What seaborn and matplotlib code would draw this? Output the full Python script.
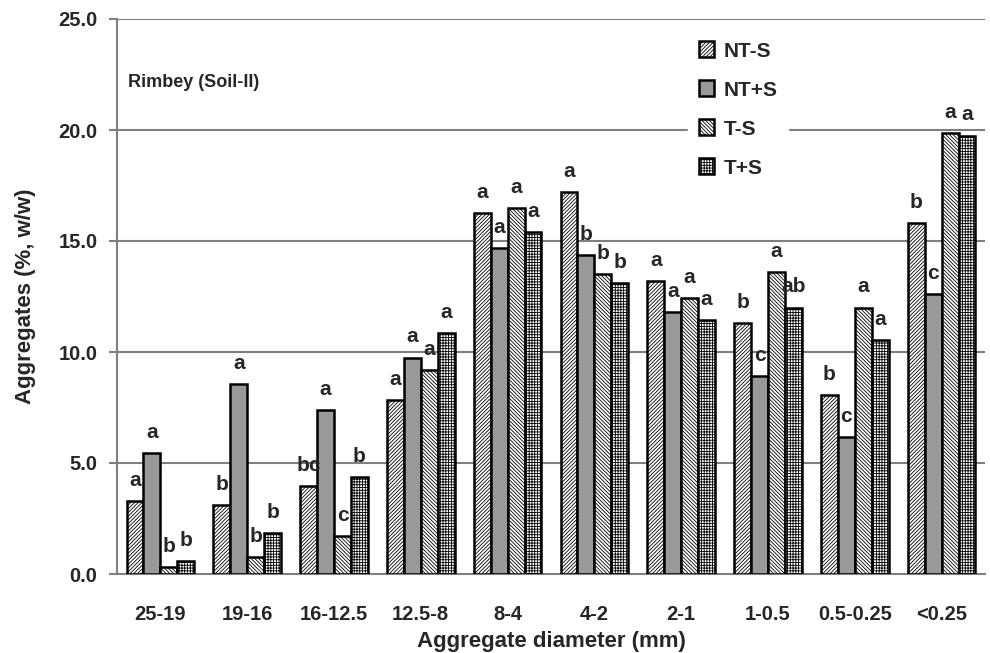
import numpy as np
import pandas as pd
import matplotlib
matplotlib.use("Agg")
import matplotlib.pyplot as plt
import seaborn as sns
from matplotlib.patches import Patch

categories = ["25-19", "19-16", "16-12.5", "12.5-8", "8-4", "4-2", "2-1", "1-0.5", "0.5-0.25", "<0.25"]
series = ["NT-S", "NT+S", "T-S", "T+S"]
nt_minus = [3.3, 3.1, 3.95, 7.85, 16.25, 17.2, 13.2, 11.3, 8.05, 15.8]
nt_plus = [5.45, 8.55, 7.4, 9.75, 14.7, 14.35, 11.8, 8.9, 6.15, 12.6]
t_minus = [0.3, 0.75, 1.7, 9.2, 16.5, 13.5, 12.45, 13.6, 12.0, 19.85]
t_plus = [0.6, 1.85, 4.35, 10.85, 15.4, 13.1, 11.45, 12.0, 10.55, 19.75]
letters = {
    "NT-S": ["a", "b", "bc", "a", "a", "a", "a", "b", "b", "b"],
    "NT+S": ["a", "a", "a", "a", "a", "b", "a", "c", "c", "c"],
    "T-S": ["b", "b", "c", "a", "a", "b", "a", "a", "a", "a"],
    "T+S": ["b", "b", "b", "a", "a", "b", "a", "ab", "a", "a"],
}
y_ticks = [0, 5, 10, 15, 20, 25]

values = {"NT-S": nt_minus, "NT+S": nt_plus, "T-S": t_minus, "T+S": t_plus}
rows = []
for s in series:
    for c, v in zip(categories, values[s]):
        rows.append({"Diameter": c, "Treatment": s, "Value": v})
df = pd.DataFrame(rows)

sns.set_style("white")
plt.rcParams["font.family"] = ["Liberation Sans", "DejaVu Sans"]
plt.rcParams["font.weight"] = "bold"
plt.rcParams["hatch.linewidth"] = 0.6

fig = plt.figure(figsize=(9.9, 6.53), dpi=100)
ax = fig.add_axes([117 / 990, 1 - 574 / 653, (985 - 117) / 990, (574 - 19) / 653])

facecolors = {"NT-S": "white", "NT+S": "#999999", "T-S": "white", "T+S": "white"}
hatches = {"NT-S": "/////////", "NT+S": "", "T-S": "\\\\\\\\\\\\\\\\\\", "T+S": "++++++"}
palette = {s: facecolors[s] for s in series}

sns.barplot(data=df, x="Diameter", y="Value", hue="Treatment", order=categories,
            hue_order=series, palette=palette, width=0.78, gap=0, saturation=1,
            edgecolor="black", linewidth=1.8, ax=ax, legend=False, zorder=3)

for cont, s in zip(ax.containers, series):
    for patch, lab in zip(cont.patches, letters[s]):
        patch.set_hatch(hatches[s])
        patch.set_facecolor(facecolors[s])
        x = patch.get_x() + patch.get_width() / 2
        h = patch.get_height()
        ax.text(x, h + 0.5, lab, ha="center", va="bottom", fontsize=15,
                fontweight="bold", zorder=5)

grid_gray = "#7f7f7f"
ax.set_ylim(0, 25)
ax.set_xlim(-0.5, len(categories) - 0.5)
ax.set_yticks(y_ticks)
ax.set_yticklabels([f"{v:.1f}" for v in y_ticks], fontsize=14.5, fontweight="bold")
ax.set_xticks(range(len(categories)))
ax.set_xticklabels(categories, fontsize=14.5, fontweight="bold")
ax.tick_params(axis="x", length=0, pad=22)
ax.set_xticks(np.arange(-0.5, len(categories), 1), minor=True)
ax.tick_params(axis="x", which="minor", length=6, width=1.5, color=grid_gray, direction="out")
ax.tick_params(axis="y", length=6, width=1.5, color=grid_gray, direction="out", left=True, pad=8)

for v in y_ticks[1:]:
    ax.axhline(v, color=grid_gray, linewidth=1.5, zorder=1)

for sp in ["top", "right"]:
    ax.spines[sp].set_visible(False)
for sp in ["left", "bottom"]:
    ax.spines[sp].set_color(grid_gray)
    ax.spines[sp].set_linewidth(1.5)

ax.set_xlabel("Aggregate diameter (mm)", fontsize=16, fontweight="bold", labelpad=5)
ax.set_ylabel("Aggregates (%, w/w)", fontsize=16, fontweight="bold", labelpad=16)

ax.text(0.013, 0.885, "Rimbey (Soil-II)", transform=ax.transAxes, fontsize=13,
        fontweight="bold", va="center", ha="left")

handles = [Patch(facecolor=facecolors[s], edgecolor="black", hatch=hatches[s], linewidth=1.8) for s in series]
leg = ax.legend(handles, series, loc="upper left", bbox_to_anchor=(0.646, 0.997),
                frameon=True, fancybox=False, edgecolor="white", facecolor="white",
                framealpha=1, handlelength=0.75, handleheight=0.8, labelspacing=0.95,
                handletextpad=0.45, borderpad=0.5,
                prop={"size": 15, "weight": "bold"})
leg.set_zorder(4)

fig.savefig("out.png", dpi=100)
